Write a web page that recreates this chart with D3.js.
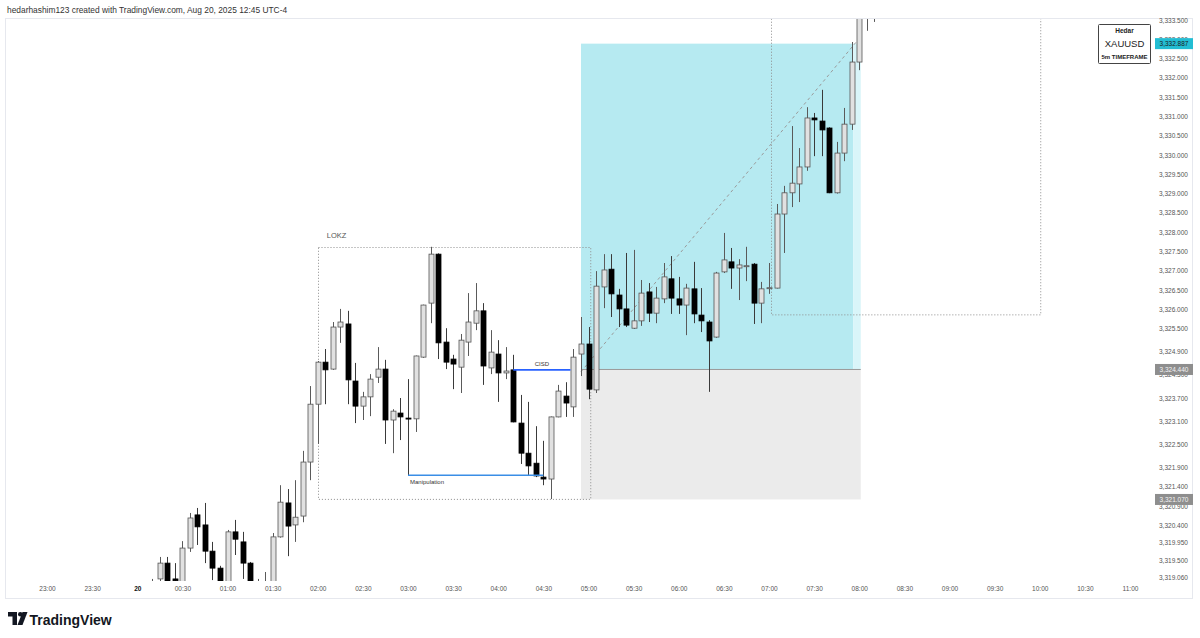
<!DOCTYPE html>
<html><head><meta charset="utf-8">
<script src="https://cdn.jsdelivr.net/npm/d3@7"></script>
<style>
body{margin:0;background:#fff;}
svg{display:block;font-family:"Liberation Sans","DejaVu Sans",Arial,sans-serif;}
</style>
</head><body>
<svg id="c" width="1200" height="638"></svg>
<script>
// ---------- DATA ----------
const times = ["00:10","00:15","00:20","00:25","00:30","00:35","00:40","00:45","00:50","00:55",
"01:00","01:05","01:10","01:15","01:20","01:25","01:30","01:35","01:40","01:45","01:50","01:55",
"02:00","02:05","02:10","02:15","02:20","02:25","02:30","02:35","02:40","02:45","02:50","02:55",
"03:00","03:05","03:10","03:15","03:20","03:25","03:30","03:35","03:40","03:45","03:50","03:55",
"04:00","04:05","04:10","04:15","04:20","04:25","04:30","04:35","04:40","04:45","04:50","04:55",
"05:00","05:05","05:10","05:15","05:20","05:25","05:30","05:35","05:40","05:45","05:50","05:55",
"06:00","06:05","06:10","06:15","06:20","06:25","06:30","06:35","06:40","06:45","06:50","06:55",
"07:00","07:05","07:10","07:15","07:20","07:25","07:30","07:35","07:40","07:45","07:50","07:55",
"08:00","08:05","08:10"];
const opens = [3318.85,3319.01,3319.42,3319.01,3318.92,3319.81,3320.67,3320.41,3319.73,3319.29,
3318.90,3320.23,3319.97,3319.42,3318.85,3318.85,3318.90,3320.10,3320.98,3320.41,3320.64,3322.04,
3323.54,3324.63,3324.45,3325.54,3325.62,3324.14,3323.49,3323.73,3324.24,3324.45,3323.13,3323.31,
3323.18,3323.16,3324.76,3326.16,3327.43,3325.15,3324.71,3324.50,3325.15,3325.64,3325.96,3324.48,
3324.84,3324.35,3324.43,3323.05,3322.27,3322.01,3321.65,3321.60,3323.21,3323.75,3323.47,3324.84,
3325.10,3323.91,3326.58,3327.04,3326.37,3326.01,3325.51,3325.70,3326.45,3325.90,3326.27,3326.79,
3326.27,3326.11,3326.53,3325.85,3325.67,3325.28,3326.97,3327.23,3327.07,3327.12,3327.17,3326.16,
3326.55,3326.55,3328.47,3329.02,3329.25,3329.69,3330.96,3330.88,3330.70,3329.02,3330.05,3330.80,
3332.41,3334.00,3333.90];
const highs = [3319.01,3319.58,3319.58,3319.42,3319.99,3320.72,3320.85,3320.98,3319.97,3319.35,
3320.28,3320.54,3320.23,3319.45,3319.01,3319.19,3320.20,3321.44,3321.34,3321.57,3322.33,3324.01,
3324.66,3324.97,3325.67,3326.01,3325.96,3324.61,3323.86,3324.32,3325.02,3324.69,3323.41,3323.70,
3324.19,3324.80,3326.12,3327.62,3327.45,3325.51,3324.82,3325.36,3326.42,3326.68,3326.16,3325.46,
3325.20,3325.02,3324.82,3323.78,3323.60,3322.97,3322.59,3323.22,3324.04,3324.11,3324.97,3325.80,
3325.54,3326.99,3327.43,3327.43,3326.53,3327.46,3327.54,3326.76,3326.68,3326.58,3327.20,3327.38,
3326.84,3326.66,3327.23,3326.55,3325.72,3326.97,3327.98,3327.59,3327.30,3327.62,3327.20,3326.71,
3327.20,3328.73,3329.20,3330.75,3330.18,3331.24,3331.09,3331.69,3330.72,3330.34,3331.22,3332.93,
3334.40,3334.50,3334.30];
const lows = [3318.60,3318.85,3318.80,3318.90,3318.85,3319.71,3319.89,3319.42,3318.98,3318.80,
3318.80,3319.63,3319.01,3318.80,3318.70,3318.70,3318.80,3320.08,3319.60,3319.97,3320.48,3321.57,
3322.51,3323.54,3324.43,3325.13,3323.54,3323.05,3323.13,3323.23,3324.09,3322.51,3322.27,3322.61,
3321.70,3322.82,3324.74,3325.64,3324.71,3324.45,3323.93,3323.83,3324.79,3325.46,3324.04,3324.32,
3323.60,3324.19,3323.07,3321.99,3321.70,3321.65,3321.44,3321.08,3323.20,3323.21,3323.21,3324.27,
3323.67,3323.83,3326.03,3325.80,3325.54,3325.54,3325.49,3325.57,3325.67,3325.64,3326.16,3325.88,
3325.88,3325.33,3325.64,3325.41,3323.86,3325.26,3326.94,3326.53,3326.24,3326.73,3325.62,3325.64,
3326.40,3326.54,3327.46,3328.65,3328.78,3329.59,3329.97,3329.97,3329.01,3329.00,3329.84,3330.65,
3332.20,3333.22,3333.45];
const closes = [3318.90,3319.42,3318.90,3318.96,3319.81,3320.59,3320.36,3319.73,3319.29,3318.90,
3320.23,3320.04,3319.42,3318.90,3318.90,3318.88,3320.10,3321.00,3320.38,3320.61,3322.04,3323.54,
3324.63,3324.43,3325.54,3325.67,3324.17,3323.49,3323.73,3324.19,3324.45,3323.13,3323.36,3323.21,
3323.17,3324.79,3326.11,3327.43,3325.13,3324.63,3324.58,3325.20,3325.67,3325.96,3324.53,3324.89,
3324.35,3324.40,3323.08,3322.27,3321.94,3321.68,3321.60,3323.21,3323.88,3323.57,3324.76,3325.10,
3323.93,3326.60,3327.02,3326.40,3326.01,3325.59,3325.70,3326.42,3325.90,3326.29,3326.84,3326.29,
3326.11,3326.55,3325.88,3325.70,3325.18,3326.94,3327.28,3327.07,3327.15,3327.13,3326.16,3326.53,
3326.56,3328.47,3329.02,3329.27,3329.69,3330.96,3330.91,3330.65,3329.02,3330.05,3330.80,3332.41,
3334.20,3334.30,3334.10];

const xTickTimes  = ["23:00","23:30","00:00","00:30","01:00","01:30","02:00","02:30","03:00","03:30","04:00","04:30","05:00","05:30","06:00","06:30","07:00","07:30","08:00","08:30","09:00","09:30","10:00","10:30","11:00"];
const xTickLabels = ["23:00","23:30","20","00:30","01:00","01:30","02:00","02:30","03:00","03:30","04:00","04:30","05:00","05:30","06:00","06:30","07:00","07:30","08:00","08:30","09:00","09:30","10:00","10:30","11:00"];
const yTickValues = [3333.5,3333.0,3332.5,3332.0,3331.5,3331.0,3330.5,3330.0,3329.5,3329.0,3328.5,3328.0,3327.5,3327.0,3326.5,3326.0,3325.5,3324.9,3324.3,3323.7,3323.1,3322.5,3321.9,3321.4,3320.9,3320.4,3319.95,3319.5,3319.06];

const targetPrice = 3332.887, entryPrice = 3324.44, stopPrice = 3321.07;
const toolTimes = ["04:55","07:56","08:01"];          // start, light-zone start, end
const lokzTimes = ["02:00","05:01"], lokzPrices = [3327.61, 3321.08];
const rightBoxTimes = ["07:01","10:00"], rightBoxPrices = [3334.6, 3325.88];
const manipTimes = ["03:00","04:30"], manipLevel = 3321.70;
const cisdTimes = ["04:10","04:48"], cisdLevel = 3324.43;
const diagTimes = ["04:55","07:58"], diagPrices = [3324.38, 3332.93];

// ---------- SCALES ----------
const parseT = s => { const [h,m] = s.split(':').map(Number); return new Date(Date.UTC(2025,7,h>=20?19:20,h,m)); };
const x = d3.scaleUtc().domain([parseT("23:00"), parseT("11:00")]).range([47, 1130]);
const y = d3.scaleLinear().domain([3319.06, 3333.5]).range([577, 20]);

const svg = d3.select("#c");
svg.append("rect").attr("width",1200).attr("height",638).attr("fill","#fff");

// header
svg.append("text").attr("x",7).attr("y",13).attr("font-size",8.4).attr("fill","#333")
  .text("hedarhashim123 created with TradingView.com, Aug 20, 2025 12:45 UTC-4");

// frame
svg.append("rect").attr("x",5.5).attr("y",18.5).attr("width",1187).attr("height",580)
  .attr("fill","none").attr("stroke","#e6e8ee");

const defs = svg.append("defs");
defs.append("clipPath").attr("id","plot").append("rect").attr("x",6).attr("y",19).attr("width",1147).attr("height",562);
const g = svg.append("g").attr("clip-path","url(#plot)");

// ---------- long position tool ----------
const tx0 = x(parseT(toolTimes[0])), tx1 = x(parseT(toolTimes[1])), tx2 = x(parseT(toolTimes[2]));
g.append("rect").attr("x",tx0).attr("y",y(targetPrice)).attr("width",tx1-tx0).attr("height",y(entryPrice)-y(targetPrice)).attr("fill","#b6eaf1");
g.append("rect").attr("x",tx1).attr("y",y(targetPrice)).attr("width",tx2-tx1).attr("height",y(entryPrice)-y(targetPrice)).attr("fill","#d9f5f9");
g.append("rect").attr("x",tx0).attr("y",y(entryPrice)).attr("width",tx2-tx0).attr("height",y(stopPrice)-y(entryPrice)).attr("fill","#ebebeb");
g.append("line").attr("x1",tx0).attr("x2",tx2).attr("y1",y(entryPrice)).attr("y2",y(entryPrice)).attr("stroke","#9a9a9a").attr("stroke-width",1);
g.append("line").attr("x1",x(parseT(diagTimes[0]))).attr("y1",y(diagPrices[0]))
  .attr("x2",x(parseT(diagTimes[1]))).attr("y2",y(diagPrices[1]))
  .attr("stroke","#9a9a9a").attr("stroke-dasharray","3,3").attr("stroke-width",1);

// ---------- boxes ----------
function dottedBox(ts, ps){
  const x0=x(parseT(ts[0])), x1=x(parseT(ts[1])), y0=y(ps[0]), y1=y(ps[1]);
  g.append("rect").attr("x",Math.round(x0)+0.5).attr("y",Math.round(y0)+0.5)
   .attr("width",x1-x0).attr("height",y1-y0).attr("fill","none")
   .attr("stroke","#8c8c8c").attr("stroke-dasharray","1,2").attr("stroke-width",1);
}
dottedBox(lokzTimes, lokzPrices);
dottedBox(rightBoxTimes, rightBoxPrices);
g.append("text").attr("x",x(parseT(lokzTimes[0]))+9).attr("y",y(lokzPrices[0])-9)
  .attr("font-size",7.5).attr("fill","#555").text("LOKZ");

// ---------- candles ----------
const candles = times.map((t,i)=>({t:parseT(t),o:opens[i],h:highs[i],l:lows[i],c:closes[i]}));
const bw = 5;
const cg = g.append("g");
candles.forEach(d=>{
  const cx = Math.round(x(d.t))+0.5;
  const up = d.c >= d.o;
  cg.append("line").attr("x1",cx).attr("x2",cx).attr("y1",y(d.h)).attr("y2",y(d.l))
    .attr("stroke", up ? "#5a5a5a" : "#3a3a3a").attr("stroke-width",1);
  const top = y(Math.max(d.o,d.c)), bot = y(Math.min(d.o,d.c));
  const hgt = Math.max(1, bot-top);
  cg.append("rect").attr("x",cx-bw/2).attr("y",top).attr("width",bw).attr("height",hgt)
    .attr("fill", up ? "#e1e1e1" : "#000").attr("stroke", up ? "#555" : "#000").attr("stroke-width",0.8);
});

// ---------- annotation lines ----------
g.append("line").attr("x1",x(parseT(manipTimes[0]))).attr("x2",x(parseT(manipTimes[1])))
  .attr("y1",y(manipLevel)).attr("y2",y(manipLevel)).attr("stroke","#3a8ee6").attr("stroke-width",1.5);
g.append("text").attr("x",x(parseT(manipTimes[0]))+2).attr("y",y(manipLevel)+9)
  .attr("font-size",6).attr("fill","#333").text("Manipulation");
g.append("line").attr("x1",x(parseT(cisdTimes[0]))).attr("x2",x(parseT(cisdTimes[1])))
  .attr("y1",y(cisdLevel)).attr("y2",y(cisdLevel)).attr("stroke","#2962ff").attr("stroke-width",1.8);
g.append("text").attr("x",(x(parseT(cisdTimes[0]))+x(parseT(cisdTimes[1])))/2).attr("y",y(cisdLevel)-4)
  .attr("text-anchor","middle").attr("font-size",6).attr("fill","#333").text("CISD");

// ---------- axes ----------
const xAxis = d3.axisBottom(x).tickValues(xTickTimes.map(parseT)).tickSize(0)
  .tickFormat((d,i)=>xTickLabels[i]);
const xg = svg.append("g").attr("transform","translate(0,586)").call(xAxis);
xg.select(".domain").remove();
xg.selectAll("text").attr("font-size",6.5).attr("font-family","Liberation Sans, DejaVu Sans, sans-serif")
  .attr("dy","0.3em")
  .attr("font-weight",(d,i)=>xTickLabels[i]==="20"?"bold":"normal")
  .attr("fill",(d,i)=>xTickLabels[i]==="20"?"#111":"#555");

const yAxis = d3.axisRight(y).tickValues(yTickValues).tickSize(0).tickFormat(d3.format(",.3f"));
const yg = svg.append("g").attr("transform","translate(1159,0)").call(yAxis);
yg.select(".domain").remove();
yg.selectAll("text").attr("font-size",6.5).attr("fill","#555").attr("x",0).attr("font-family","Liberation Sans, DejaVu Sans, sans-serif");

// price tags (drawn over the axis labels, as in the reference)
function tag(v, bg, fg){
  const yy = y(v);
  svg.append("rect").attr("x",1155).attr("y",yy-5.5).attr("width",38).attr("height",11).attr("fill",bg);
  svg.append("text").attr("x",1174).attr("y",yy).attr("dy","0.35em").attr("text-anchor","middle")
    .attr("font-size",6.5).attr("fill",fg).text(d3.format(",.3f")(v));
}
tag(targetPrice, "#22bdd3", "#1b1b1b");
tag(entryPrice, "#8e8e8e", "#f4f4f4");
tag(stopPrice, "#8e8e8e", "#f4f4f4");

// legend box
svg.append("rect").attr("x",1098.5).attr("y",24.5).attr("width",52).attr("height",39).attr("rx",1)
  .attr("fill","#fff").attr("stroke","#444").attr("stroke-width",1);
svg.append("text").attr("x",1124.5).attr("y",33).attr("text-anchor","middle").attr("font-size",6.5).attr("font-weight","bold").attr("fill","#222").text("Hedar");
svg.append("text").attr("x",1124.5).attr("y",46.5).attr("text-anchor","middle").attr("font-size",9.5).attr("fill","#222").text("XAUUSD");
svg.append("text").attr("x",1124.5).attr("y",59).attr("text-anchor","middle").attr("font-size",6).attr("font-weight","bold").attr("fill","#222").text("5m TIMEFRAME");

// TradingView logo
const lg = svg.append("g").attr("fill","#131722");
lg.append("path").attr("d","M8,612 H17 V625 H12.5 V616.5 H8 Z");
lg.append("circle").attr("cx",20.3).attr("cy",614.3).attr("r",2.3);
lg.append("path").attr("d","M22.5,612 H27.5 L22.5,625 H17.5 Z");
svg.append("text").attr("x",29.5).attr("y",624.5).attr("font-size",14).attr("font-weight","600").attr("fill","#131722").text("TradingView");
</script>
</body></html>
